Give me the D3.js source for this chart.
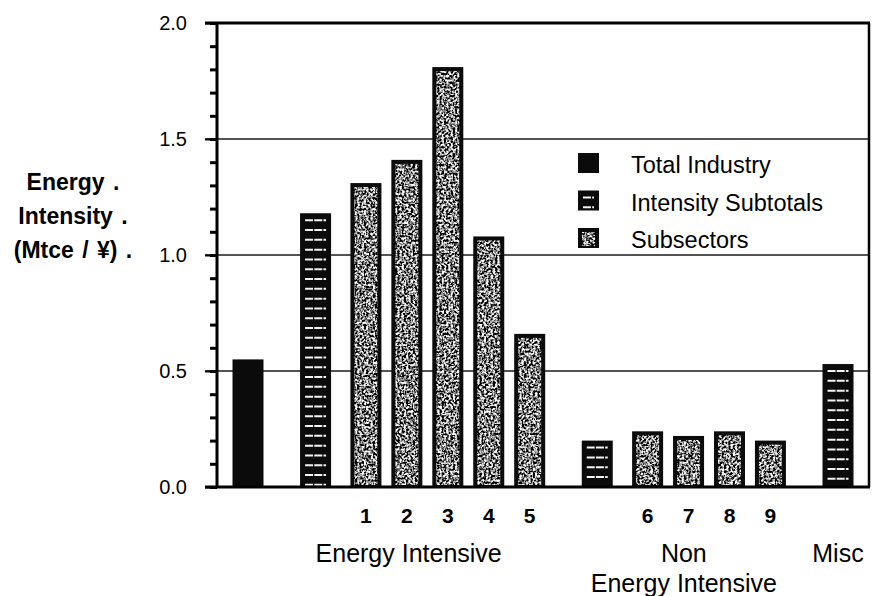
<!DOCTYPE html>
<html>
<head>
<meta charset="utf-8">
<script src="https://cdn.jsdelivr.net/npm/d3@7"></script>
<style>
  html, body { margin: 0; padding: 0; background: #fff; }
  svg { display: block; font-family: "Liberation Sans", Arial, Helvetica, sans-serif; }
</style>
</head>
<body>
<svg id="chart" width="873" height="596"></svg>
<script>
// ---------------- DATA ----------------
const categories = ["Total Industry", "Energy Intensive subtotal", "1", "2", "3", "4", "5",
                    "Non Energy Intensive subtotal", "6", "7", "8", "9", "Misc"];
const values     = [0.55, 1.18, 1.31, 1.41, 1.81, 1.08, 0.66, 0.20, 0.24, 0.22, 0.24, 0.20, 0.53];
const kinds      = ["total", "subtotal", "sub", "sub", "sub", "sub", "sub",
                    "subtotal", "sub", "sub", "sub", "sub", "subtotal"];
const groups     = ["total", "EI", "EI", "EI", "EI", "EI", "EI",
                    "NEI", "NEI", "NEI", "NEI", "NEI", "misc"];
const barLabels  = ["", "", "1", "2", "3", "4", "5", "", "6", "7", "8", "9", ""];
const majorTicks = [0.0, 0.5, 1.0, 1.5, 2.0];
const minorTicks = d3.range(0, 21).map(i => i / 10);
const gridValues = [0.5, 1.0, 1.5];
const legendLabels = ["Total Industry", "Intensity Subtotals", "Subsectors"];
const legendKinds  = ["total", "subtotal", "sub"];
const yTitleLines  = ["Energy .", "Intensity .", "(Mtce / ¥) ."];

// ---------------- LAYOUT ----------------
const svg = d3.select("#chart");
const plot = { left: 217, right: 870, top: 23, bottom: 487 };
const y = d3.scaleLinear().domain([0, 2]).range([plot.bottom, plot.top]);

// slot positions derived from grouping (layout rule, not data)
const GROUP_GAP = 1.65, SUBTOTAL_GAP = 1.23, SUB_GAP = 1.0;
const slots = [];
categories.forEach((c, i) => {
  if (i === 0) { slots.push(0); return; }
  let gap = SUB_GAP;
  if (groups[i] !== groups[i - 1]) gap = GROUP_GAP;
  else if (kinds[i - 1] === "subtotal") gap = SUBTOTAL_GAP;
  slots.push(slots[i - 1] + gap);
});
const x = d3.scaleLinear().domain([0, slots[slots.length - 1]]).range([248, 838]);
const BAR_W = 31;

const data = categories.map((c, i) => ({
  cat: c, value: values[i], kind: kinds[i], group: groups[i], label: barLabels[i], slot: slots[i]
}));

// ---------------- DEFS ----------------
const defs = svg.append("defs");
const f = defs.append("filter").attr("id", "speckle")
  .attr("x", 0).attr("y", 0).attr("width", 1).attr("height", 1)
  .attr("filterUnits", "objectBoundingBox");
f.append("feTurbulence").attr("type", "fractalNoise").attr("baseFrequency", 0.45)
  .attr("numOctaves", 2).attr("seed", 4).attr("result", "noise");
f.append("feColorMatrix").attr("in", "noise").attr("type", "matrix")
  .attr("values", "2.8 0 0 0 -0.95  2.8 0 0 0 -0.95  2.8 0 0 0 -0.95  0 0 0 0 1")
  .attr("result", "gray");
const ct = f.append("feComponentTransfer").attr("in", "gray").attr("result", "disc");
["feFuncR", "feFuncG", "feFuncB"].forEach(fn =>
  ct.append(fn).attr("type", "discrete").attr("tableValues", "0 0.04 0.18 0.4 0.68 0.95"));
f.append("feComposite").attr("in", "disc").attr("in2", "SourceGraphic").attr("operator", "in");

// ---------------- GRID ----------------
svg.append("g").selectAll("line").data(gridValues).join("line")
  .attr("x1", 205).attr("x2", plot.right)
  .attr("y1", d => y(d)).attr("y2", d => y(d))
  .attr("stroke", "#1a1a1a").attr("stroke-width", 1.6);

// ---------------- BAR DRAWING ----------------
function drawMark(g, x0, y0, w, h, kind) {
  g.append("rect").attr("x", x0).attr("y", y0).attr("width", w).attr("height", h).attr("fill", "#0b0b0b");
  if (kind === "subtotal") {
    const ys = d3.range(y0 + 7, y0 + h - 1, 9.8);
    g.selectAll("line.dash").data(ys).join("line").attr("class", "dash")
      .attr("x1", x0 + 5).attr("x2", x0 + w - 5)
      .attr("y1", d => d).attr("y2", d => d)
      .attr("stroke", "#f4f4f4").attr("stroke-width", 2)
      .attr("stroke-dasharray", "8 1.2");
  } else if (kind === "sub") {
    g.append("rect").attr("x", x0 + 4).attr("y", y0 + 4).attr("width", w - 8).attr("height", Math.max(0, h - 6))
      .attr("fill", "#888").attr("filter", "url(#speckle)");
  }
}

const barsG = svg.append("g");
data.forEach(d => {
  const g = barsG.append("g");
  const x0 = x(d.slot) - BAR_W / 2;
  drawMark(g, x0, y(d.value), BAR_W, y(0) - y(d.value), d.kind);
});

// ---------------- AXES ----------------
const minorAxis = d3.axisLeft(y).tickValues(minorTicks).tickSize(7).tickFormat("");
const majorAxis = d3.axisLeft(y).tickValues(majorTicks).tickSize(12).tickPadding(18)
  .tickFormat(d3.format(".1f"));

const ax1 = svg.append("g").attr("transform", `translate(${plot.left},0)`).call(minorAxis);
ax1.select(".domain").remove();
ax1.selectAll(".tick line").attr("stroke", "#000").attr("stroke-width", 3);

const ax2 = svg.append("g").attr("transform", `translate(${plot.left},0)`).call(majorAxis);
ax2.select(".domain").remove();
ax2.selectAll(".tick line").attr("stroke", "#000").attr("stroke-width", 2);
ax2.selectAll(".tick text")
  .attr("font-size", 20).attr("fill", "#000").attr("dy", "0.3em")
  .attr("font-family", "'Liberation Sans', Arial, sans-serif");

// frame lines
const fr = svg.append("g").attr("stroke", "#000");
fr.append("line").attr("x1", 205).attr("x2", plot.right).attr("y1", y(2)).attr("y2", y(2)).attr("stroke-width", 3);
fr.append("line").attr("x1", 205).attr("x2", plot.right).attr("y1", y(0)).attr("y2", y(0)).attr("stroke-width", 3);
fr.append("line").attr("x1", plot.left).attr("x2", plot.left).attr("y1", y(2)).attr("y2", y(0)).attr("stroke-width", 3);
fr.append("line").attr("x1", plot.right - 1).attr("x2", plot.right - 1).attr("y1", y(2)).attr("y2", y(0)).attr("stroke-width", 2.5);

// ---------------- BAR LABELS ----------------
svg.append("g").selectAll("text").data(data.filter(d => d.label)).join("text")
  .attr("x", d => x(d.slot)).attr("y", 523)
  .attr("text-anchor", "middle").attr("font-size", 21).attr("font-weight", "bold")
  .text(d => d.label);

// group labels
const ei = data.filter(d => d.group === "EI");
const nei = data.filter(d => d.group === "NEI");
const misc = data.find(d => d.group === "misc");
const gl = svg.append("g").attr("font-size", 25).attr("fill", "#000");
gl.append("text").attr("x", x(ei[0].slot)).attr("y", 562).attr("text-anchor", "start").text("Energy Intensive");
const neiMid = (x(nei[0].slot) + x(nei[nei.length - 1].slot)) / 2;
gl.append("text").attr("x", neiMid).attr("y", 562).attr("text-anchor", "middle").text("Non");
gl.append("text").attr("x", neiMid).attr("y", 592).attr("text-anchor", "middle").text("Energy Intensive");
gl.append("text").attr("x", x(misc.slot)).attr("y", 562).attr("text-anchor", "middle").text("Misc");

// ---------------- Y TITLE ----------------
svg.append("g").selectAll("text").data(yTitleLines).join("text")
  .attr("x", 73).attr("y", (d, i) => 190 + i * 34)
  .attr("text-anchor", "middle").attr("font-size", 23).attr("font-weight", "bold")
  .attr("word-spacing", 2)
  .text(d => d);

// ---------------- LEGEND ----------------
const lg = svg.append("g");
legendLabels.forEach((lab, i) => {
  const baseY = 173 + i * 37.5;
  const g = lg.append("g");
  drawMark(g, 578, baseY - 20, 21, 20, legendKinds[i]);
  g.append("text").attr("x", 631).attr("y", baseY).attr("font-size", 23.5).text(lab);
});
</script>
</body>
</html>
